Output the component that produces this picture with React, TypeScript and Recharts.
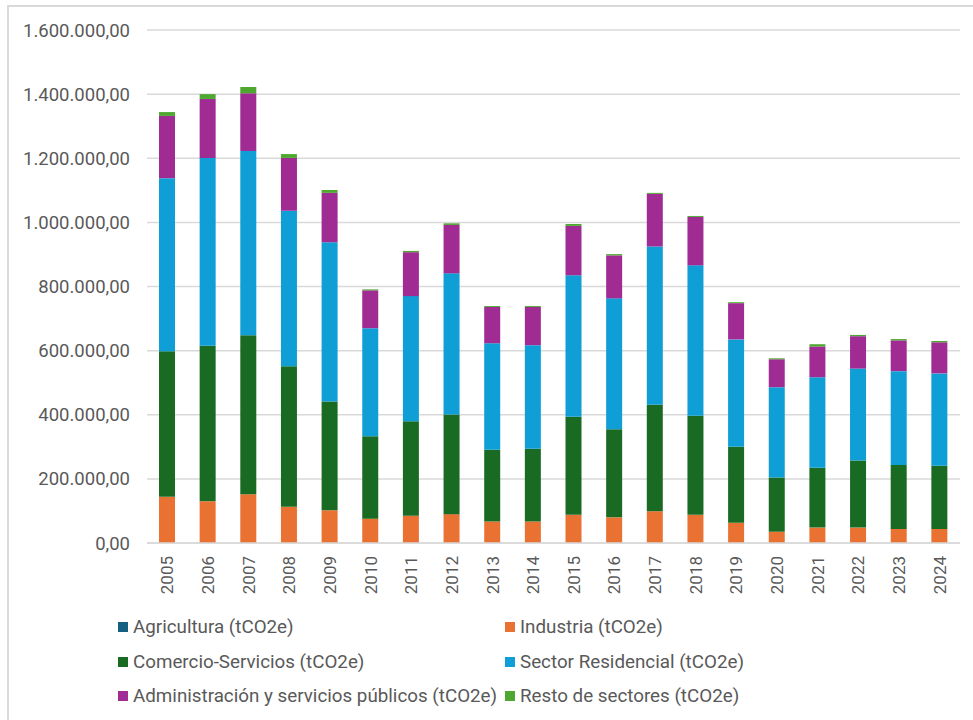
import { BarChart, Bar, XAxis, YAxis, CartesianGrid, Legend } from 'recharts';

const years = [
  '2005', '2006', '2007', '2008', '2009', '2010', '2011', '2012', '2013', '2014',
  '2015', '2016', '2017', '2018', '2019', '2020', '2021', '2022', '2023', '2024',
];

// tCO2e per sector
const agricultura = [0, 0, 0, 0, 0, 0, 0, 0, 0, 0, 0, 0, 0, 0, 0, 0, 0, 0, 0, 0];
const industria = [
  144000, 130000, 152000, 113000, 102000, 76000, 85000, 90000, 67000, 67000,
  88000, 80000, 99000, 88000, 63000, 35000, 48000, 48000, 44000, 44000,
];
const comercio = [
  454000, 485000, 496000, 438000, 339000, 257000, 295000, 311000, 224000, 227000,
  306000, 275000, 332000, 309000, 237000, 169000, 187000, 209000, 199000, 197000,
];
const residencial = [
  540000, 586000, 575000, 485000, 497000, 337000, 390000, 440000, 332000, 323000,
  441000, 408000, 494000, 469000, 335000, 282000, 282000, 287000, 293000, 288000,
];
const administracion = [
  194000, 184000, 180000, 165000, 154000, 118000, 137000, 151000, 113000, 119000,
  154000, 134000, 164000, 151000, 113000, 87000, 96000, 101000, 96000, 97000,
];
const resto = [
  12000, 15000, 19000, 12000, 9000, 3000, 4000, 5000, 3000, 3000,
  6000, 4000, 3000, 3000, 3000, 3000, 7000, 4000, 4000, 4000,
];

const yTicks = [0, 200000, 400000, 600000, 800000, 1000000, 1200000, 1400000, 1600000];

const series = [
  { key: 'agricultura', name: 'Agricultura (tCO2e)', color: '#156082' },
  { key: 'industria', name: 'Industria (tCO2e)', color: '#E97132' },
  { key: 'comercio', name: 'Comercio-Servicios (tCO2e)', color: '#196B24' },
  { key: 'residencial', name: 'Sector Residencial (tCO2e)', color: '#0F9ED5' },
  { key: 'administracion', name: 'Administración y servicios públicos (tCO2e)', color: '#A02B93' },
  { key: 'resto', name: 'Resto de sectores (tCO2e)', color: '#4EA72E' },
];

const data = years.map((year, i) => ({
  year,
  agricultura: agricultura[i],
  industria: industria[i],
  comercio: comercio[i],
  residencial: residencial[i],
  administracion: administracion[i],
  resto: resto[i],
}));

const FONT = 'Roboto, sans-serif';
const GREY = '#595959';

function formatNumber(v: number) {
  const s = Math.round(v).toString().replace(/\B(?=(\d{3})+(?!\d))/g, '.');
  return s + ',00';
}

function YearTick(props: any) {
  const { x, y, payload } = props;
  return (
    <text
      x={x}
      y={y}
      transform={`rotate(-90, ${x}, ${y})`}
      textAnchor="end"
      dominantBaseline="central"
      fill={GREY}
      fontSize={17}
      fontFamily={FONT}
    >
      {payload.value}
    </text>
  );
}

function LegendContent() {
  const rows = [
    [series[0], series[1]],
    [series[2], series[3]],
    [series[4], series[5]],
  ];
  return (
    <div style={{ height: 117, position: 'relative', fontFamily: FONT, fontSize: 18.8, color: GREY }}>
      {rows.map((row, r) =>
        row.map((s, c) => (
          <div
            key={s.key}
            style={{
              display: 'flex',
              alignItems: 'center',
              position: 'absolute',
              left: c === 0 ? 118 : 505,
              top: 7 + r * 34.7,
              height: 34,
              whiteSpace: 'nowrap',
            }}
          >
            <span style={{ width: 10, height: 10, background: s.color, display: 'inline-block', marginRight: 5 }} />
            <span>{s.name}</span>
          </div>
        ))
      )}
    </div>
  );
}

export default function App() {
  return (
    <div style={{ position: 'absolute', left: 0, top: 0, width: 973, height: 720, background: '#fff', overflow: 'hidden' }}>
      <div
        style={{
          position: 'absolute',
          left: 7,
          top: 5,
          width: 980,
          height: 730,
          border: '2px solid #D9D9D9',
          boxSizing: 'border-box',
        }}
      />
      <BarChart
        width={973}
        height={720}
        data={data}
        barSize={16}
        margin={{ top: 30, right: 13, left: 0, bottom: 0 }}
        style={{ position: 'absolute', left: 0, top: 0 }}
      >
        <CartesianGrid vertical={false} stroke="#D9D9D9" strokeWidth={1.5} />
        <XAxis
          dataKey="year"
          height={60}
          tickSize={0}
          tickMargin={13}
          interval={0}
          axisLine={{ stroke: '#D9D9D9', strokeWidth: 1.5 }}
          tick={<YearTick />}
        />
        <YAxis
          width={147}
          domain={[0, 1600000]}
          ticks={yTicks}
          tickSize={0}
          tickMargin={17}
          axisLine={false}
          tickFormatter={formatNumber}
          tick={{ fill: GREY, fontSize: 18.5, fontFamily: FONT }}
        />
        <Legend verticalAlign="bottom" content={<LegendContent />} wrapperStyle={{ height: 117 }} />
        {series.map((s) => (
          <Bar key={s.key} dataKey={s.key} name={s.name} stackId="a" fill={s.color} isAnimationActive={false} />
        ))}
      </BarChart>
    </div>
  );
}
